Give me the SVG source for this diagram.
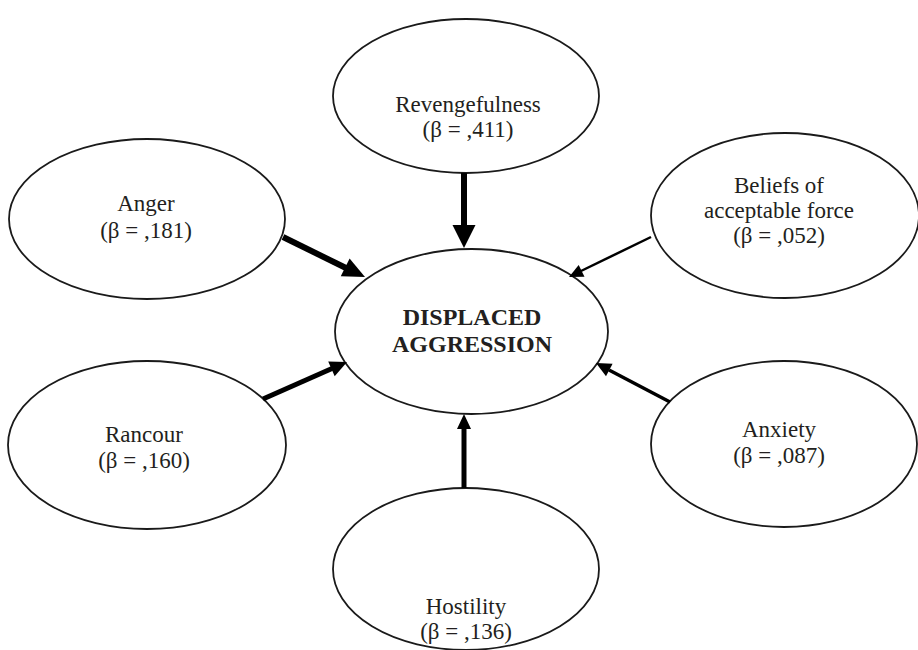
<svg xmlns="http://www.w3.org/2000/svg" width="918" height="650" viewBox="0 0 918 650">
<style>
.node ellipse{fill:#fff;stroke:#1a1a1a;stroke-width:1.8}
.node text{font-family:"Liberation Serif","Times New Roman",serif;font-size:23px;fill:#231f20;text-anchor:middle}
.node text.main{font-weight:bold;font-size:24px}
.conn line{stroke:#000;stroke-linecap:butt}
.conn polygon{fill:#000;stroke:none}
</style>
<rect width="918" height="650" fill="#fff"/>
<g id="node-revengefulness" class="node">
<ellipse cx="466" cy="96" rx="133" ry="77"/>
<text x="468" y="112">Revengefulness</text>
<text x="468" y="137">(β = ,411)</text>
</g>
<g id="node-anger" class="node">
<ellipse cx="147" cy="219" rx="138" ry="80"/>
<text x="146" y="211">Anger</text>
<text x="146" y="238">(β = ,181)</text>
</g>
<g id="node-beliefs" class="node">
<ellipse cx="785" cy="215.5" rx="134" ry="82.5"/>
<text x="779" y="193">Beliefs of</text>
<text x="779" y="218">acceptable force</text>
<text x="779" y="243">(β = ,052)</text>
</g>
<g id="node-displaced" class="node">
<ellipse cx="471.5" cy="331.5" rx="136.5" ry="82.5"/>
<text class="main" x="472" y="325">DISPLACED</text>
<text class="main" x="472" y="352">AGGRESSION</text>
</g>
<g id="node-rancour" class="node">
<ellipse cx="147" cy="445" rx="139" ry="84"/>
<text x="144" y="442">Rancour</text>
<text x="144" y="468">(β = ,160)</text>
</g>
<g id="node-anxiety" class="node">
<ellipse cx="784" cy="444" rx="133" ry="83"/>
<text x="779" y="437">Anxiety</text>
<text x="779" y="463">(β = ,087)</text>
</g>
<g id="node-hostility" class="node">
<ellipse cx="466" cy="569" rx="133" ry="81"/>
<text x="466" y="614">Hostility</text>
<text x="466" y="639">(β = ,136)</text>
</g>
<g id="connectors" class="conn">
<line x1="464" y1="173" x2="464" y2="226" stroke-width="6"/>
<polygon points="464,248 452.5,225 475.5,225"/>
<line x1="283" y1="237" x2="346" y2="268" stroke-width="6"/>
<polygon points="365,277 340.8,276.3 349.6,258.4"/>
<line x1="651" y1="237" x2="581" y2="271" stroke-width="2.5"/>
<polygon points="569,277 578.7,265 584.5,276.7"/>
<line x1="263" y1="399" x2="332" y2="368.5" stroke-width="5"/>
<polygon points="347,362 334.7,376.2 328.2,361.5"/>
<line x1="670" y1="402" x2="609" y2="370" stroke-width="3.5"/>
<polygon points="596,363 612.6,363.8 606,376.2"/>
<line x1="464" y1="488" x2="464" y2="428" stroke-width="5"/>
<polygon points="464,414 457,429 471,429"/>
</g>
</svg>
